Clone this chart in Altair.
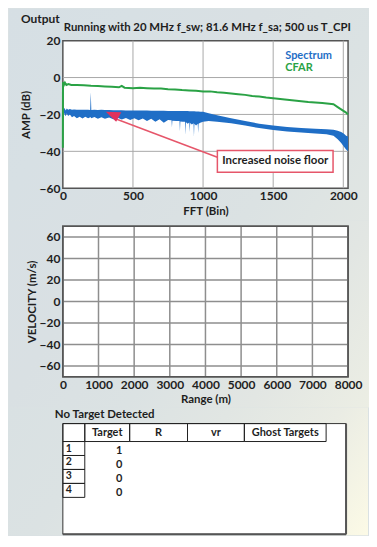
import altair as alt
import pandas as pd

FONT = "Lato"
INK = "#1e1e1e"
BLUE = "#1f6ec6"
GREEN = "#2aa245"
RED = "#e6566a"

# ---------------- top panel: FFT output ----------------
panel_title = "Output"
run_text = "Running with 20 MHz f_sw; 81.6 MHz f_sa; 500 us T_CPI"
fft_ticks = [0, 500, 1000, 1500, 2000]
amp_ticks = [-60, -40, -20, 0, 20]
fft_grid = [500, 1000, 1500, 2000]
amp_grid = [-40, -20, 0]

spectrum_bins = [5, 12, 20, 28, 38, 50, 65, 80, 100, 120, 140, 160, 180, 195, 199, 203,
                 225, 250, 275, 300, 330, 360, 390, 420, 450, 480, 510, 540, 570, 600,
                 630, 660, 690, 720, 750, 775, 778, 781, 810, 832, 835, 838, 855, 872,
                 875, 878, 890, 902, 905, 908, 920, 932, 935, 938, 950, 962, 965, 968,
                 980, 1000, 1040, 1100, 1200, 1300, 1400, 1500, 1600, 1700, 1800, 1880,
                 1930, 1960, 1985, 2005, 2020, 2034]
spectrum_upper = [-17.2, -16.5, -17.8, -16.8, -17.5, -17.0, -17.4, -17.3, -17.5, -17.4,
                  -17.5, -17.4, -17.5, -17.6, -8.0, -17.6, -17.5, -17.6, -17.5, -17.6,
                  -17.6, -17.7, -17.7, -17.7, -17.8, -17.8, -17.8, -17.9, -17.9, -17.9,
                  -18.0, -18.0, -18.0, -18.0, -18.1, -18.1, -18.1, -18.1, -18.1, -18.2,
                  -18.2, -18.2, -18.2, -18.2, -18.2, -18.2, -18.2, -18.3, -18.3, -18.3,
                  -18.3, -18.3, -18.3, -18.3, -18.4, -18.4, -18.4, -18.4, -18.5, -18.6,
                  -19.3, -20.4, -22.0, -23.5, -25.0, -26.0, -26.8, -27.4, -27.8, -28.0,
                  -28.3, -28.8, -29.5, -30.5, -31.5, -32.0]
spectrum_lower = [-18.8, -19.8, -21.0, -19.5, -20.8, -20.0, -21.5, -20.8, -22.0, -21.2,
                  -22.2, -21.3, -22.0, -21.5, -21.5, -22.0, -21.4, -22.3, -21.5, -22.4,
                  -21.6, -22.6, -21.8, -22.8, -21.9, -23.0, -22.0, -23.2, -22.2, -23.6,
                  -22.4, -24.0, -22.6, -24.5, -23.0, -23.2, -27.0, -23.4, -23.5, -23.6,
                  -29.0, -23.8, -24.0, -24.0, -31.0, -24.2, -25.0, -24.4, -29.5, -24.6,
                  -25.5, -24.8, -32.0, -25.0, -26.0, -25.0, -30.0, -25.0, -24.5, -24.0,
                  -23.6, -24.0, -24.8, -26.0, -27.4, -28.4, -29.2, -29.8, -30.3, -30.8,
                  -31.5, -33.5, -35.5, -37.5, -39.0, -40.0]

cfar_bins = [0, 1, 8, 15, 25, 40, 60, 100, 150, 200, 250, 300, 350, 400, 420, 440, 500,
             550, 600, 650, 700, 750, 800, 850, 900, 950, 1000, 1050, 1100, 1150, 1200,
             1250, 1300, 1350, 1400, 1450, 1500, 1550, 1600, 1650, 1700, 1750, 1800,
             1850, 1900, 1930, 1960, 1990, 2020, 2034]
cfar_db = [-38.0, -2.5, -4.0, -2.8, -4.0, -3.5, -4.0, -4.0, -4.2, -4.5, -4.6, -4.8,
           -5.0, -5.3, -4.5, -5.5, -5.8, -5.6, -5.8, -6.0, -6.0, -6.3, -6.5, -6.8, -7.0,
           -7.2, -7.6, -7.5, -8.0, -8.2, -8.6, -9.0, -9.4, -10.0, -10.3, -10.8, -11.2,
           -11.6, -12.0, -12.4, -12.8, -13.2, -13.5, -13.8, -14.2, -14.5, -16.0, -17.5,
           -19.0, -20.0]
legend_names = ["Spectrum", "CFAR"]

note_text = "Increased noise floor"
note_box_bins = [1102, 1927]
note_box_db = [-39.5, -51.4]
note_arrow_bins = [1102, 380]
note_arrow_db = [-43.2, -22.5]
note_head_bin = [363]
note_head_db = [-21.4]

# ---------------- middle panel: range / velocity ----------------
range_ticks = [0, 1000, 2000, 3000, 4000, 5000, 6000, 7000, 8000]
range_grid = [1000, 2000, 3000, 4000, 5000, 6000, 7000]
velocity_ticks = [-60, -40, -20, 0, 20, 40, 60]

# ---------------- bottom panel: target table ----------------
status_text = "No Target Detected"
table_headers = ["", "Target", "R", "vr", "Ghost Targets"]
table_rows = [1, 2, 3, 4]
target_values = [1, 0, 0, 0]

# ---------------- layout / style constants ----------------
PANEL_W, PANEL_H = 361, 528
W1, H1 = 286, 148
W2, H2 = 286, 151
W3, H3 = 284, 111
COL_EDGES = [0, 22, 67, 125, 182, 264]
HEAD_H, ROW_H = 18, 14

ANCHORS = [(0.0, "#d6dfe4"), (0.5, "#dae1e3"), (0.75, "#e3e7e3"), (0.9, "#eeefe4"), (1.0, "#fcfae6")]


def _rgb(h):
    return [int(h[i:i + 2], 16) for i in (1, 3, 5)]


def mix(t):
    t = max(0.0, min(1.0, t))
    for (ta, ca), (tb, cb) in zip(ANCHORS, ANCHORS[1:]):
        if t <= tb:
            f = (t - ta) / (tb - ta)
            a, b = _rgb(ca), _rgb(cb)
            return "#" + "".join(f"{round(a[i] + (b[i] - a[i]) * f):02x}" for i in range(3))
    return ANCHORS[-1][1]


one = pd.DataFrame({"k": [0]})


def bg_layer(sec_top, sec_h, x0, x1, y0, y1):
    h = sec_h / PANEL_H
    t0 = sec_top / (2 * PANEL_H)
    t1 = t0 + (1 + h) / 2
    gx2 = (1 + h) / (1 + h * h)
    gy2 = h * gx2
    stops = [alt.GradientStop(offset=s, color=mix(t0 + (t1 - t0) * s)) for s in (0, 0.25, 0.5, 0.75, 1)]
    grad = alt.LinearGradient(gradient="linear", stops=stops, x1=0, y1=0, x2=gx2, y2=gy2)
    return alt.Chart(one).mark_rect(fill=grad, strokeWidth=0).encode(
        x=alt.value(x0), x2=alt.value(x1), y=alt.value(y0), y2=alt.value(y1))


def txt(text, x, y, size=11.5, color=INK, align="left"):
    return alt.Chart(one).mark_text(text=text, font=FONT, fontWeight="bold", fontSize=size,
                                    color=color, align=align, baseline="middle").encode(
        x=alt.value(x), y=alt.value(y))


def frame(w, h, stroke="#555", sw=1.5, fill="white"):
    return alt.Chart(one).mark_rect(fill=fill, stroke=stroke, strokeWidth=sw).encode(
        x=alt.value(0), x2=alt.value(w), y=alt.value(0), y2=alt.value(h))


# ================= chart 1 =================
xs1 = alt.Scale(domain=[0, 2034], nice=False, zero=False)
ys1 = alt.Scale(domain=[-60, 20], nice=False, zero=False)
x_axis1 = alt.Axis(values=fft_ticks, title="FFT (Bin)", grid=False, domain=False, ticks=False,
                   labelPadding=2, titlePadding=4, zindex=1, format="d", labelFlush=False)
y_axis1 = alt.Axis(values=amp_ticks, title="AMP (dB)", grid=False, domain=False, ticks=False,
                   labelPadding=3, titlePadding=8, zindex=1)


def X1(field):
    return alt.X(field, scale=xs1, axis=x_axis1)


def Y1(field):
    return alt.Y(field, scale=ys1, axis=y_axis1)


spec_df = pd.DataFrame({"bin": spectrum_bins, "upper": spectrum_upper, "lower": spectrum_lower})
cfar_df = pd.DataFrame({"bin": cfar_bins, "db": cfar_db})
box_df = pd.DataFrame({"bin": [note_box_bins[0]], "b1": [note_box_bins[1]],
                       "db": [note_box_db[0]], "d1": [note_box_db[1]],
                       "bc": [sum(note_box_bins) / 2], "dc": [sum(note_box_db) / 2],
                       "label": [note_text]})
arrow_df = pd.DataFrame({"bin": note_arrow_bins, "db": note_arrow_db})
head_df = pd.DataFrame({"bin": note_head_bin, "db": note_head_db})

c1 = alt.layer(
    bg_layer(0, 212, -54, 307, -32, 180),
    frame(W1, H1),
    alt.Chart(pd.DataFrame({"bin": fft_grid})).mark_rule(color="#a9a9a9", strokeWidth=1).encode(
        x=X1("bin:Q")),
    alt.Chart(pd.DataFrame({"db": amp_grid})).mark_rule(color="#a9a9a9", strokeWidth=1).encode(
        y=Y1("db:Q")),
    alt.Chart(spec_df).mark_area(color=BLUE, opacity=1).encode(
        x=X1("bin:Q"), y=Y1("upper:Q"), y2="lower:Q"),
    alt.Chart(cfar_df).mark_line(color=GREEN, strokeWidth=2).encode(x=X1("bin:Q"), y=Y1("db:Q")),
    alt.Chart(arrow_df).mark_line(color=RED, strokeWidth=1.5).encode(x=X1("bin:Q"), y=Y1("db:Q")),
    alt.Chart(head_df).mark_point(shape="M -1 -0.65 L 0.95 -0.6 L 0.3 0.6 Z", size=256,
                                  filled=True, color="#e0325c", opacity=1).encode(
        x=X1("bin:Q"), y=Y1("db:Q")),
    alt.Chart(box_df).mark_rect(fill="white", stroke=RED, strokeWidth=1.5).encode(
        x=X1("bin:Q"), x2="b1:Q", y=Y1("db:Q"), y2="d1:Q"),
    alt.Chart(box_df).mark_text(font=FONT, fontWeight="bold", fontSize=11.5, color=INK).encode(
        x=X1("bc:Q"), y=Y1("dc:Q"), text="label:N"),
    txt(legend_names[0], 223, 15.5, 11, BLUE),
    txt(legend_names[1], 223, 27.5, 11, GREEN),
    txt(panel_title, -42, -22, 12),
    txt(run_text, 1, -13, 11.4),
).properties(width=W1, height=H1)

# ================= chart 2 =================
xs2 = alt.Scale(domain=[0, 8000], nice=False, zero=False)
ys2 = alt.Scale(domain=[-70, 70], nice=False, zero=False)
x_axis2 = alt.Axis(values=range_ticks, title="Range (m)", grid=False, domain=False, ticks=False,
                   labelPadding=3, titlePadding=3, zindex=1, format="d", labelFlush=False)
y_axis2 = alt.Axis(values=velocity_ticks, title="VELOCITY (m/s)", grid=False, domain=False,
                   ticks=False, labelPadding=3, titlePadding=2, zindex=1)

c2 = alt.layer(
    bg_layer(212, 188, -54, 307, -6, 182),
    frame(W2, H2),
    alt.Chart(pd.DataFrame({"r": range_grid})).mark_rule(color="#8e8e8e", strokeWidth=1.5).encode(
        x=alt.X("r:Q", scale=xs2, axis=x_axis2)),
    alt.Chart(pd.DataFrame({"v": velocity_ticks})).mark_rule(color="#8e8e8e", strokeWidth=1.5).encode(
        y=alt.Y("v:Q", scale=ys2, axis=y_axis2)),
    frame(W2, H2, fill="transparent"),
).properties(width=W2, height=H2)

# ================= chart 3: table =================
hdr_df = pd.DataFrame({
    "label": table_headers,
    "x0": COL_EDGES[:-1], "x1": COL_EDGES[1:],
    "xc": [(a + b) / 2 for a, b in zip(COL_EDGES[:-1], COL_EDGES[1:])],
})
row_df = pd.DataFrame({
    "row": [str(r) for r in table_rows],
    "val": [str(v) for v in target_values],
    "y0": [HEAD_H + i * ROW_H for i in range(len(table_rows))],
    "y1": [HEAD_H + (i + 1) * ROW_H for i in range(len(table_rows))],
    "yc": [HEAD_H + (i + 0.5) * ROW_H for i in range(len(table_rows))],
    "yv": [HEAD_H + (i + 0.5) * ROW_H + 3 for i in range(len(table_rows))],
})
val_x = (COL_EDGES[1] + COL_EDGES[2]) / 2 + 12

c3 = alt.layer(
    bg_layer(400, 128, -55, 306, -16, 112),
    frame(W3, H3, "#333", 1),
    alt.Chart(one).mark_rule(color="#555", strokeWidth=2).encode(
        x=alt.value(W3), y=alt.value(0), y2=alt.value(H3)),
    alt.Chart(one).mark_rule(color="#555", strokeWidth=2).encode(
        x=alt.value(0), x2=alt.value(W3), y=alt.value(H3)),
    alt.Chart(hdr_df).mark_rect(fill=None, stroke="#222", strokeWidth=1).encode(
        x=alt.X("x0:Q", scale=None), x2="x1:Q", y=alt.value(0), y2=alt.value(HEAD_H)),
    alt.Chart(hdr_df).mark_text(font=FONT, fontWeight="bold", fontSize=11, color=INK).encode(
        x=alt.X("xc:Q", scale=None), y=alt.value(HEAD_H / 2), text="label:N"),
    alt.Chart(row_df).mark_rect(fill=None, stroke="#222", strokeWidth=1).encode(
        x=alt.value(0), x2=alt.value(COL_EDGES[1]), y=alt.Y("y0:Q", scale=None), y2="y1:Q"),
    alt.Chart(row_df).mark_text(font=FONT, fontWeight="bold", fontSize=10.5, color=INK, align="left").encode(
        x=alt.value(3), y=alt.Y("yc:Q", scale=None), text="row:N"),
    alt.Chart(row_df).mark_text(font=FONT, fontWeight="bold", fontSize=11, color=INK).encode(
        x=alt.value(val_x), y=alt.Y("yv:Q", scale=None), text="val:N"),
    txt(status_text, -8, -8.5, 11.5),
).properties(width=W3, height=H3)

chart = alt.vconcat(c1, c2, c3, spacing=0).properties(
    padding=0, background="#dae1e3"
).configure_view(stroke=None).configure_axis(
    labelFont=FONT, titleFont=FONT, labelFontWeight="bold", titleFontWeight="bold",
    labelColor=INK, titleColor=INK, labelFontSize=12, titleFontSize=11.5,
)

chart.save("out.html", embed_options={"renderer": "svg", "actions": False})
